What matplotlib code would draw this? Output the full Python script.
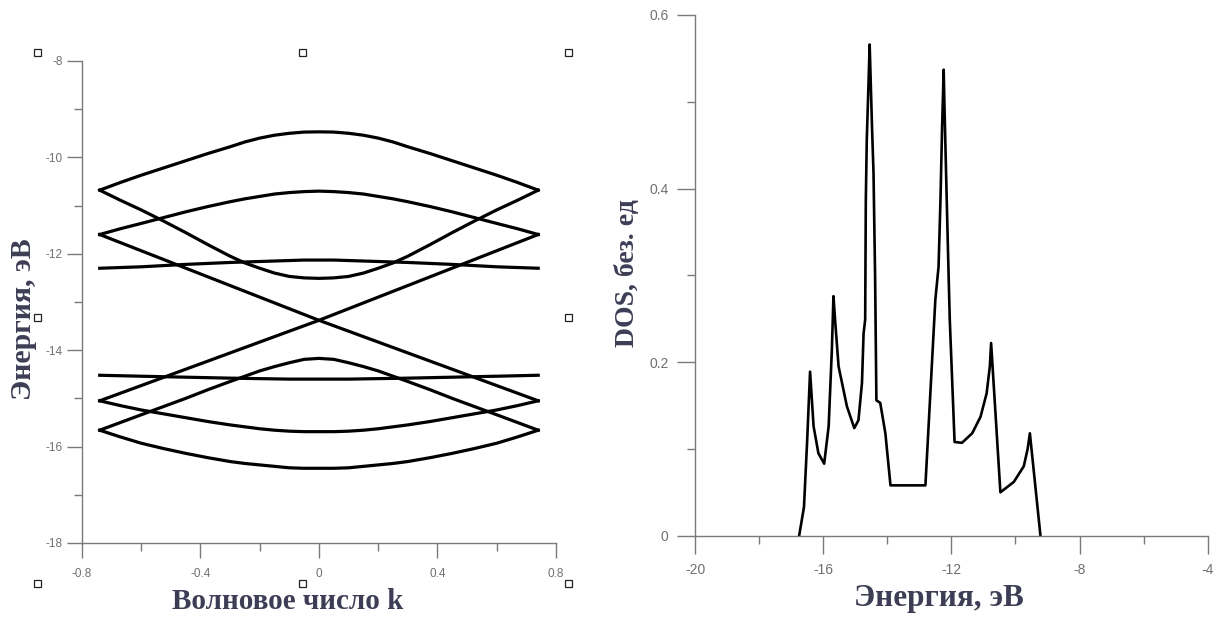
import numpy as np
import matplotlib
matplotlib.use('Agg')
import matplotlib.pyplot as plt
from matplotlib.ticker import MultipleLocator
from matplotlib.patches import Rectangle

# --- band structure E(k), eV; bands are even in k, only k >= 0 half listed
k_half = [0.0, 0.05, 0.1, 0.15, 0.2, 0.25, 0.3, 0.375, 0.45, 0.525, 0.6, 0.67, 0.74]
band1 = [-9.47, -9.475, -9.50, -9.54, -9.60, -9.68, -9.78, -9.92, -10.07, -10.22, -10.37, -10.52, -10.68]
band2 = [-10.70, -10.71, -10.73, -10.76, -10.81, -10.86, -10.92, -11.02, -11.13, -11.25, -11.37, -11.48, -11.60]
band3 = [-12.13, -12.13, -12.14, -12.15, -12.16, -12.17, -12.18, -12.20, -12.22, -12.245, -12.27, -12.285, -12.30]
band4 = [-12.51, -12.50, -12.47, -12.40, -12.30, -12.19, -12.05, -11.81, -11.56, -11.32, -11.09, -10.89, -10.68]
band5 = [-14.60, -14.60, -14.60, -14.595, -14.59, -14.585, -14.58, -14.57, -14.56, -14.55, -14.54, -14.53, -14.52]
band6 = [-14.17, -14.19, -14.26, -14.34, -14.43, -14.54, -14.65, -14.82, -15.00, -15.17, -15.34, -15.50, -15.66]
band7 = [-15.69, -15.69, -15.68, -15.66, -15.63, -15.59, -15.55, -15.48, -15.40, -15.32, -15.24, -15.15, -15.05]
band8 = [-16.45, -16.45, -16.44, -16.41, -16.38, -16.35, -16.31, -16.23, -16.14, -16.04, -15.93, -15.80, -15.66]

# two linear branches crossing at k = 0
k_cross = [-0.74, 0.0, 0.74]
cross_down = [-11.60, -13.38, -15.05]
cross_up = [-15.05, -13.38, -11.60]

# --- density of states
dos_e = [-16.75, -16.60, -16.50, -16.41, -16.30, -16.15, -15.97, -15.83, -15.73,
         -15.68, -15.63, -15.52, -15.26, -15.03, -14.90, -14.79, -14.74, -14.69,
         -14.67, -14.64, -14.58, -14.55, -14.48, -14.43, -14.38, -14.34, -14.22,
         -14.06, -13.90, -12.81, -12.50, -12.40, -12.34, -12.29, -12.24, -12.22,
         -12.17, -12.10, -12.05, -11.90, -11.67, -11.35, -11.09, -10.90, -10.80,
         -10.76, -10.47, -10.05, -9.74, -9.62, -9.55, -9.22]
dos_v = [0.000, 0.033, 0.110, 0.189, 0.126, 0.095, 0.083, 0.126, 0.214,
         0.276, 0.249, 0.195, 0.149, 0.124, 0.133, 0.176, 0.233, 0.249,
         0.387, 0.456, 0.529, 0.566, 0.475, 0.418, 0.298, 0.156, 0.153,
         0.118, 0.058, 0.058, 0.272, 0.310, 0.387, 0.470, 0.537, 0.502,
         0.425, 0.320, 0.249, 0.108, 0.107, 0.118, 0.137, 0.164, 0.195,
         0.222, 0.050, 0.062, 0.080, 0.100, 0.118, 0.000]

k_ticks = [-0.8, -0.4, 0.0, 0.4, 0.8]
k_labels = ['-0.8', '-0.4', '0', '0.4', '0.8']
e_ticks = [-18, -16, -14, -12, -10, -8]
e_labels = ['-18', '-16', '-14', '-12', '-10', '-8']
dos_ticks = [0, 0.2, 0.4, 0.6]
dos_labels = ['0', '0.2', '0.4', '0.6']
de_ticks = [-20, -16, -12, -8, -4]
de_labels = ['-20', '-16', '-12', '-8', '-4']

lab_font = dict(family='Liberation Serif', weight='bold', color='#3d3d55')
tick_col = '#707070'
spine_col = '#7a7a7a'


def style_axes(ax, fs):
    for s in ['top', 'right']:
        ax.spines[s].set_visible(False)
    for s in ['left', 'bottom']:
        ax.spines[s].set_color(spine_col)
        ax.spines[s].set_linewidth(1.0)
    ax.tick_params(which='major', direction='out', length=11, width=1.0,
                   color=spine_col, labelcolor=tick_col, labelsize=fs)
    ax.tick_params(which='minor', direction='out', length=6, width=1.0,
                   color=spine_col)
    for t in ax.get_xticklabels() + ax.get_yticklabels():
        t.set_family('Liberation Sans')


fig = plt.figure(figsize=(12.23, 6.3), dpi=100)
lw = 2.3

# band structure
ax1 = fig.add_axes([0.0670, 0.1381, 0.3876, 0.7651])
kh = np.array(k_half)
k_full = np.concatenate([-kh[::-1], kh[1:]])
for b in [band1, band2, band3, band4, band5, band6, band7, band8]:
    bb = np.array(b)
    ax1.plot(k_full, np.concatenate([bb[::-1], bb[1:]]), 'k', lw=lw,
             solid_joinstyle='round')
ax1.plot(k_cross, cross_down, 'k', lw=lw)
ax1.plot(k_cross, cross_up, 'k', lw=lw)
ax1.set_xlim([-0.8, 0.8])
ax1.set_ylim([-18, -8])
ax1.set_xticks(k_ticks)
ax1.set_xticklabels(k_labels)
ax1.set_yticks(e_ticks)
ax1.set_yticklabels(e_labels)
ax1.xaxis.set_minor_locator(MultipleLocator(0.2))
ax1.yaxis.set_minor_locator(MultipleLocator(1))
style_axes(ax1, 8.5)
ax1.tick_params(axis='x', which='major', pad=7)
ax1.tick_params(axis='y', which='major', pad=3)
ax1.set_xlabel('Волновое число k', fontdict=lab_font, fontsize=21)
ax1.xaxis.set_label_coords(0.435, -0.093)
ax1.set_ylabel('Энергия, эВ', fontdict=lab_font, fontsize=21.5)
ax1.yaxis.set_label_coords(-0.094, 0.465)

# DOS
ax2 = fig.add_axes([0.5683, 0.1497, 0.4192, 0.8265])
ax2.plot(dos_e, dos_v, 'k', lw=1.9, solid_joinstyle='round')
ax2.set_xlim([-20, -4])
ax2.set_ylim([0, 0.6])
ax2.set_xticks(de_ticks)
ax2.set_xticklabels(de_labels)
ax2.set_yticks(dos_ticks)
ax2.set_yticklabels(dos_labels)
ax2.xaxis.set_minor_locator(MultipleLocator(2))
ax2.yaxis.set_minor_locator(MultipleLocator(0.1))
style_axes(ax2, 10)
ax2.tick_params(which='major', length=13)
ax2.tick_params(axis='x', which='major', pad=7)
ax2.tick_params(axis='y', which='major', pad=6)
ax2.set_xlabel('Энергия, эВ', fontdict=lab_font, fontsize=22.5)
ax2.xaxis.set_label_coords(0.476, -0.093)
ax2.set_ylabel('DOS, без. ед', fontdict=lab_font, fontsize=20)
ax2.yaxis.set_label_coords(-0.108, 0.505)

# selection handles around the left plot
W, H = 1223.0, 630.0
for px, py in [(37, 52), (302, 52), (568, 52), (37, 317), (568, 317),
               (37, 583), (302, 583), (568, 583)]:
    fig.add_artist(Rectangle(((px - 3.5) / W, 1 - (py + 3.5) / H), 7 / W, 7 / H,
                             transform=fig.transFigure, facecolor='white',
                             edgecolor='#222222', lw=0.9))

fig.savefig('out.png', dpi=100)
